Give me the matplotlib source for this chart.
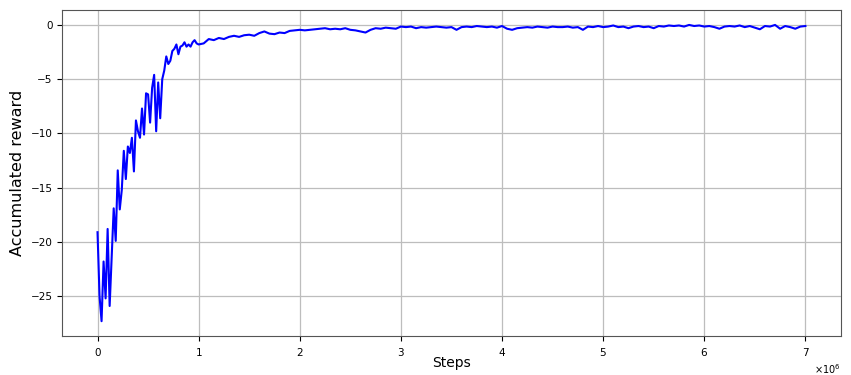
import numpy as np
import matplotlib
matplotlib.use("Agg")
import matplotlib.pyplot as plt
from matplotlib.ticker import ScalarFormatter

# early phase, sampled every 20k steps
early_steps = np.arange(50) * 20000
early_reward = [-19.1, -25.0, -27.3, -21.8, -25.2, -18.8, -25.9, -21.4, -16.9, -19.9,
                -13.4, -17.0, -15.2, -11.6, -14.2, -11.2, -11.8, -10.4, -13.5, -8.8,
                -9.8, -10.4, -7.7, -10.1, -6.3, -6.4, -9.0, -5.8, -4.6, -9.8,
                -5.3, -8.6, -5.0, -4.2, -2.9, -3.6, -3.3, -2.4, -2.2, -1.8,
                -2.7, -2.0, -1.9, -1.6, -2.0, -1.8, -2.0, -1.6, -1.4, -1.7]

# later phase, sampled every 50k steps
late_steps = 1000000 + np.arange(121) * 50000
late_reward = [-1.8, -1.7, -1.3, -1.4, -1.2, -1.3, -1.1, -1.0, -1.1, -0.95,
               -0.9, -1.0, -0.75, -0.6, -0.8, -0.85, -0.7, -0.75, -0.55, -0.5,
               -0.45, -0.5, -0.45, -0.4, -0.35, -0.3, -0.4, -0.35, -0.4, -0.3,
               -0.45, -0.5, -0.6, -0.7, -0.45, -0.3, -0.35, -0.25, -0.3, -0.35,
               -0.15, -0.2, -0.15, -0.3, -0.2, -0.25, -0.2, -0.15, -0.2, -0.25,
               -0.2, -0.45, -0.2, -0.15, -0.2, -0.1, -0.15, -0.2, -0.15, -0.25,
               -0.1, -0.35, -0.45, -0.3, -0.25, -0.2, -0.25, -0.15, -0.2, -0.25,
               -0.15, -0.2, -0.2, -0.15, -0.25, -0.2, -0.45, -0.15, -0.2, -0.1,
               -0.2, -0.15, -0.05, -0.2, -0.15, -0.3, -0.15, -0.1, -0.2, -0.15,
               -0.3, -0.1, -0.15, -0.05, -0.1, -0.05, -0.15, 0.0, -0.1, -0.05,
               -0.15, -0.1, -0.2, -0.35, -0.15, -0.1, -0.15, -0.05, -0.2, -0.1,
               -0.25, -0.4, -0.1, -0.15, 0.0, -0.35, -0.1, -0.2, -0.35, -0.15,
               -0.1]

steps = np.concatenate([early_steps, late_steps])
reward = np.array(early_reward + late_reward)

fig = plt.figure(figsize=(8.51, 3.75), dpi=100)
ax = fig.add_axes([0.073, 0.104, 0.915, 0.869])
ax.plot(steps, reward, color="blue", linewidth=1.5)
ax.grid(True, color="#bdbdbd", linewidth=0.9)
ax.set_xlabel("Steps", fontsize=10)
ax.xaxis.set_label_coords(0.5, -0.062)
ax.set_ylabel("Accumulated reward", fontsize=11.5)
ax.tick_params(labelsize=7.5)

fmt = ScalarFormatter(useMathText=True)
fmt.set_powerlimits((0, 0))
ax.xaxis.set_major_formatter(fmt)
ax.xaxis.get_offset_text().set_fontsize(7)
for s in ax.spines.values():
    s.set_color("#555555")

fig.savefig("out.png", dpi=100)
